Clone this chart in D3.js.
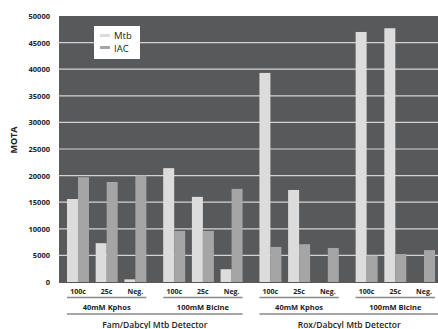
<!DOCTYPE html>
<html>
<head>
<meta charset="utf-8">
<script src="https://cdn.jsdelivr.net/npm/d3@7"></script>
<style>
  html, body { margin: 0; padding: 0; background: #fff; }
  svg { display: block; }
  text { font-family: "Open Sans", "DejaVu Sans", sans-serif; fill: #222; }
</style>
</head>
<body>
<svg id="chart" width="438" height="329"></svg>
<script>
// ---- data ----
const categories = ["100c", "25c", "Neg."];
const buffers = ["40mM Kphos", "100mM Bicine"];
const detectors = ["Fam/Dabcyl Mtb Detector", "Rox/Dabcyl Mtb Detector"];
const seriesNames = ["Mtb", "IAC"];
// order: Fam-Kphos(100c,25c,Neg), Fam-Bicine(...), Rox-Kphos(...), Rox-Bicine(...)
const mtbValues = [15600, 7300, 500, 21400, 16000, 2400, 39300, 17300, 0, 47000, 47700, 0];
const iacValues = [19700, 18800, 20000, 9600, 9600, 17500, 6600, 7100, 6400, 4950, 5250, 6000];
const yTicks = [0, 5000, 10000, 15000, 20000, 25000, 30000, 35000, 40000, 45000, 50000];

// ---- build ----
const groups = [];
detectors.forEach((d, di) => buffers.forEach((b, bi) => groups.push({ key: di + "-" + bi, detector: d, buffer: b, di })));
const rows = [];
groups.forEach((g, gi) => categories.forEach((c, ci) => {
  const idx = gi * 3 + ci;
  rows.push({ group: g.key, cat: c, Mtb: mtbValues[idx], IAC: iacValues[idx] });
}));

const colors = { Mtb: "#dcdcdc", IAC: "#a5a5a5" };
const svg = d3.select("#chart");

const plot = { left: 59, right: 438, top: 16, bottom: 283 };

const x0 = d3.scaleBand().domain(groups.map(g => g.key)).range([59, 443])
  .paddingInner(0.036).paddingOuter(0.0135);
const x1 = d3.scaleBand().domain(categories).range([0, x0.bandwidth()]).padding(0.233);
const x2 = d3.scaleBand().domain(seriesNames).range([0, x1.bandwidth()]);
const y = d3.scaleLinear().domain([0, 50000]).range([282, 16]);

// background
svg.append("rect").attr("x", plot.left).attr("y", plot.top)
  .attr("width", plot.right - plot.left).attr("height", plot.bottom - plot.top)
  .attr("fill", "#58595b");

// gridlines
svg.append("g").selectAll("line").data(yTicks.filter(t => t > 0 && t < 50000)).join("line")
  .attr("x1", plot.left).attr("x2", plot.right)
  .attr("y1", d => y(d)).attr("y2", d => y(d))
  .attr("stroke", "#d4d4d4").attr("stroke-width", 1.2);

// y tick labels via axis
const yAxis = d3.axisLeft(y).tickValues(yTicks).tickSize(0).tickPadding(0).tickFormat(d3.format("d"));
const ya = svg.append("g").attr("transform", "translate(50,0)").call(yAxis);
ya.select(".domain").remove();
ya.selectAll("text").attr("font-size", 7.5).attr("font-weight", 700)
  .style("font-family", '"Open Sans", sans-serif').attr("fill", "#222");

// y label
svg.append("text").attr("transform", "translate(17,140) rotate(-90)")
  .attr("text-anchor", "middle").attr("font-size", 9).attr("font-weight", 700).text("MOTA");

// bars
const gBars = svg.append("g");
rows.forEach(r => {
  seriesNames.forEach(s => {
    const xx = x0(r.group) + x1(r.cat) + x2(s);
    gBars.append("rect")
      .attr("x", xx).attr("width", x2.bandwidth())
      .attr("y", y(r[s])).attr("height", y(0) - y(r[s]))
      .attr("fill", colors[s]);
  });
});

// x category labels
rows.forEach(r => {
  svg.append("text")
    .attr("x", x0(r.group) + x1(r.cat) + x1.bandwidth() / 2)
    .attr("y", 293.5).attr("text-anchor", "middle")
    .attr("font-size", 7).attr("font-weight", 700).text(r.cat);
});

// buffer group lines + labels
groups.forEach(g => {
  const xs = x0(g.key) + x1(categories[0]);
  const xe = Math.min(x0(g.key) + x1(categories[2]) + x1.bandwidth(), 438);
  svg.append("line").attr("x1", xs).attr("x2", xe).attr("y1", 297.5).attr("y2", 297.5)
    .attr("stroke", "#8a8a8a").attr("stroke-width", 1.3);
  svg.append("text").attr("x", (xs + x0(g.key) + x1(categories[2]) + x1.bandwidth()) / 2)
    .attr("y", 309.5).attr("text-anchor", "middle")
    .attr("font-size", 7.5).attr("font-weight", 700).text(g.buffer);
});

// detector lines + labels
detectors.forEach((d, di) => {
  const gs = groups.filter(g => g.di === di);
  const xs = x0(gs[0].key) + x1(categories[0]);
  const xeFull = x0(gs[gs.length - 1].key) + x1(categories[2]) + x1.bandwidth();
  const xe = Math.min(xeFull + (di === 1 ? 10 : 0), 438);
  svg.append("line").attr("x1", xs).attr("x2", xe).attr("y1", 314).attr("y2", 314)
    .attr("stroke", "#8a8a8a").attr("stroke-width", 1.6);
  svg.append("text").attr("x", (xs + xeFull) / 2 + (di === 1 ? 2 : 0)).attr("y", 327.5)
    .attr("text-anchor", "middle").attr("font-size", 8.5).attr("font-weight", 600).text(d);
});

// legend
const lg = svg.append("g");
lg.append("rect").attr("x", 94).attr("y", 26).attr("width", 46).attr("height", 33).attr("fill", "#fff");
seriesNames.forEach((s, i) => {
  lg.append("rect").attr("x", 100).attr("y", 34 + i * 12).attr("width", 10).attr("height", 3).attr("fill", colors[s]);
  lg.append("text").attr("x", 114).attr("y", 39.3 + i * 12.2).attr("font-size", 9.5).attr("fill", "#222").text(s);
});
</script>
</body>
</html>
